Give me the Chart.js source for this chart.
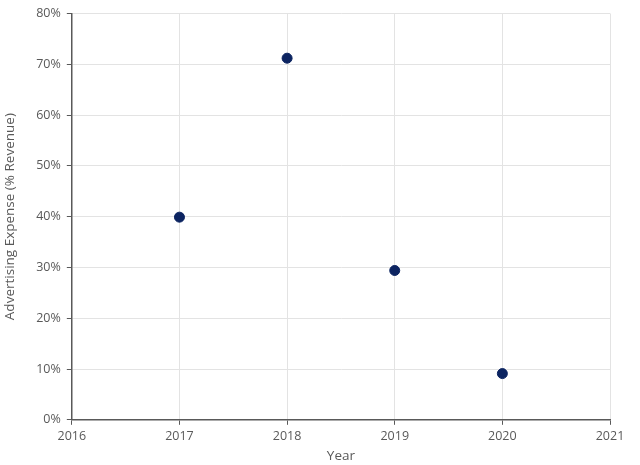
<!DOCTYPE html>
<html>
<head>
<meta charset="utf-8">
<script src="https://cdn.jsdelivr.net/npm/chart.js@4"></script>
<style>
  html, body { margin: 0; padding: 0; background: #fff; }
  #wrap { width: 640px; height: 465px; position: relative; }
</style>
</head>
<body>
<div id="wrap"><canvas id="chart"></canvas></div>
<script>
const years = [2017, 2018, 2019, 2020];
const adExpense = [39.9, 71.2, 29.4, 9.1];
const xTicks = [2016, 2017, 2018, 2019, 2020, 2021];
const yTicks = [0, 10, 20, 30, 40, 50, 60, 70, 80];

const points = years.map((y, i) => ({ x: y, y: adExpense[i] }));

const axisColor = '#595959';
const gridColor = '#e3e3e3';
const font = { family: "'Open Sans', 'Noto Sans', sans-serif", size: 12.5 };

new Chart(document.getElementById('chart'), {
    type: 'scatter',
    data: {
        datasets: [{
            data: points,
            backgroundColor: '#0c2461',
            borderColor: '#0c2461',
            pointRadius: 5,
            pointHoverRadius: 5,
        }],
    },
    options: {
        responsive: true,
        maintainAspectRatio: false,
        animation: false,
        layout: { padding: { top: 5, right: 30, bottom: 1, left: 2 } },
        plugins: { legend: { display: false }, tooltip: { enabled: false } },
        scales: {
            x: {
                type: 'linear',
                min: xTicks[0],
                max: xTicks[xTicks.length - 1],
                afterBuildTicks: axis => { axis.ticks = xTicks.map(v => ({ value: v })); },
                ticks: { color: axisColor, font, padding: 4, callback: v => String(v) },
                grid: { color: gridColor, tickColor: axisColor, tickLength: 5 },
                border: { color: axisColor, width: 1.5 },
                title: { display: true, text: 'Year', color: axisColor, font: { ...font, size: 13.5 }, padding: { top: 0, bottom: 0 } },
            },
            y: {
                min: yTicks[0],
                max: yTicks[yTicks.length - 1],
                afterBuildTicks: axis => { axis.ticks = yTicks.map(v => ({ value: v })); },
                ticks: { color: axisColor, font, padding: 6, callback: v => v + '%' },
                grid: { color: gridColor, tickColor: axisColor, tickLength: 5 },
                border: { color: axisColor, width: 1.5 },
                title: { display: true, text: 'Advertising Expense (% Revenue)', color: axisColor, font: { ...font, size: 13.5 }, padding: { top: 0, bottom: 12 } },
            },
        },
    },
});
</script>
</body>
</html>
